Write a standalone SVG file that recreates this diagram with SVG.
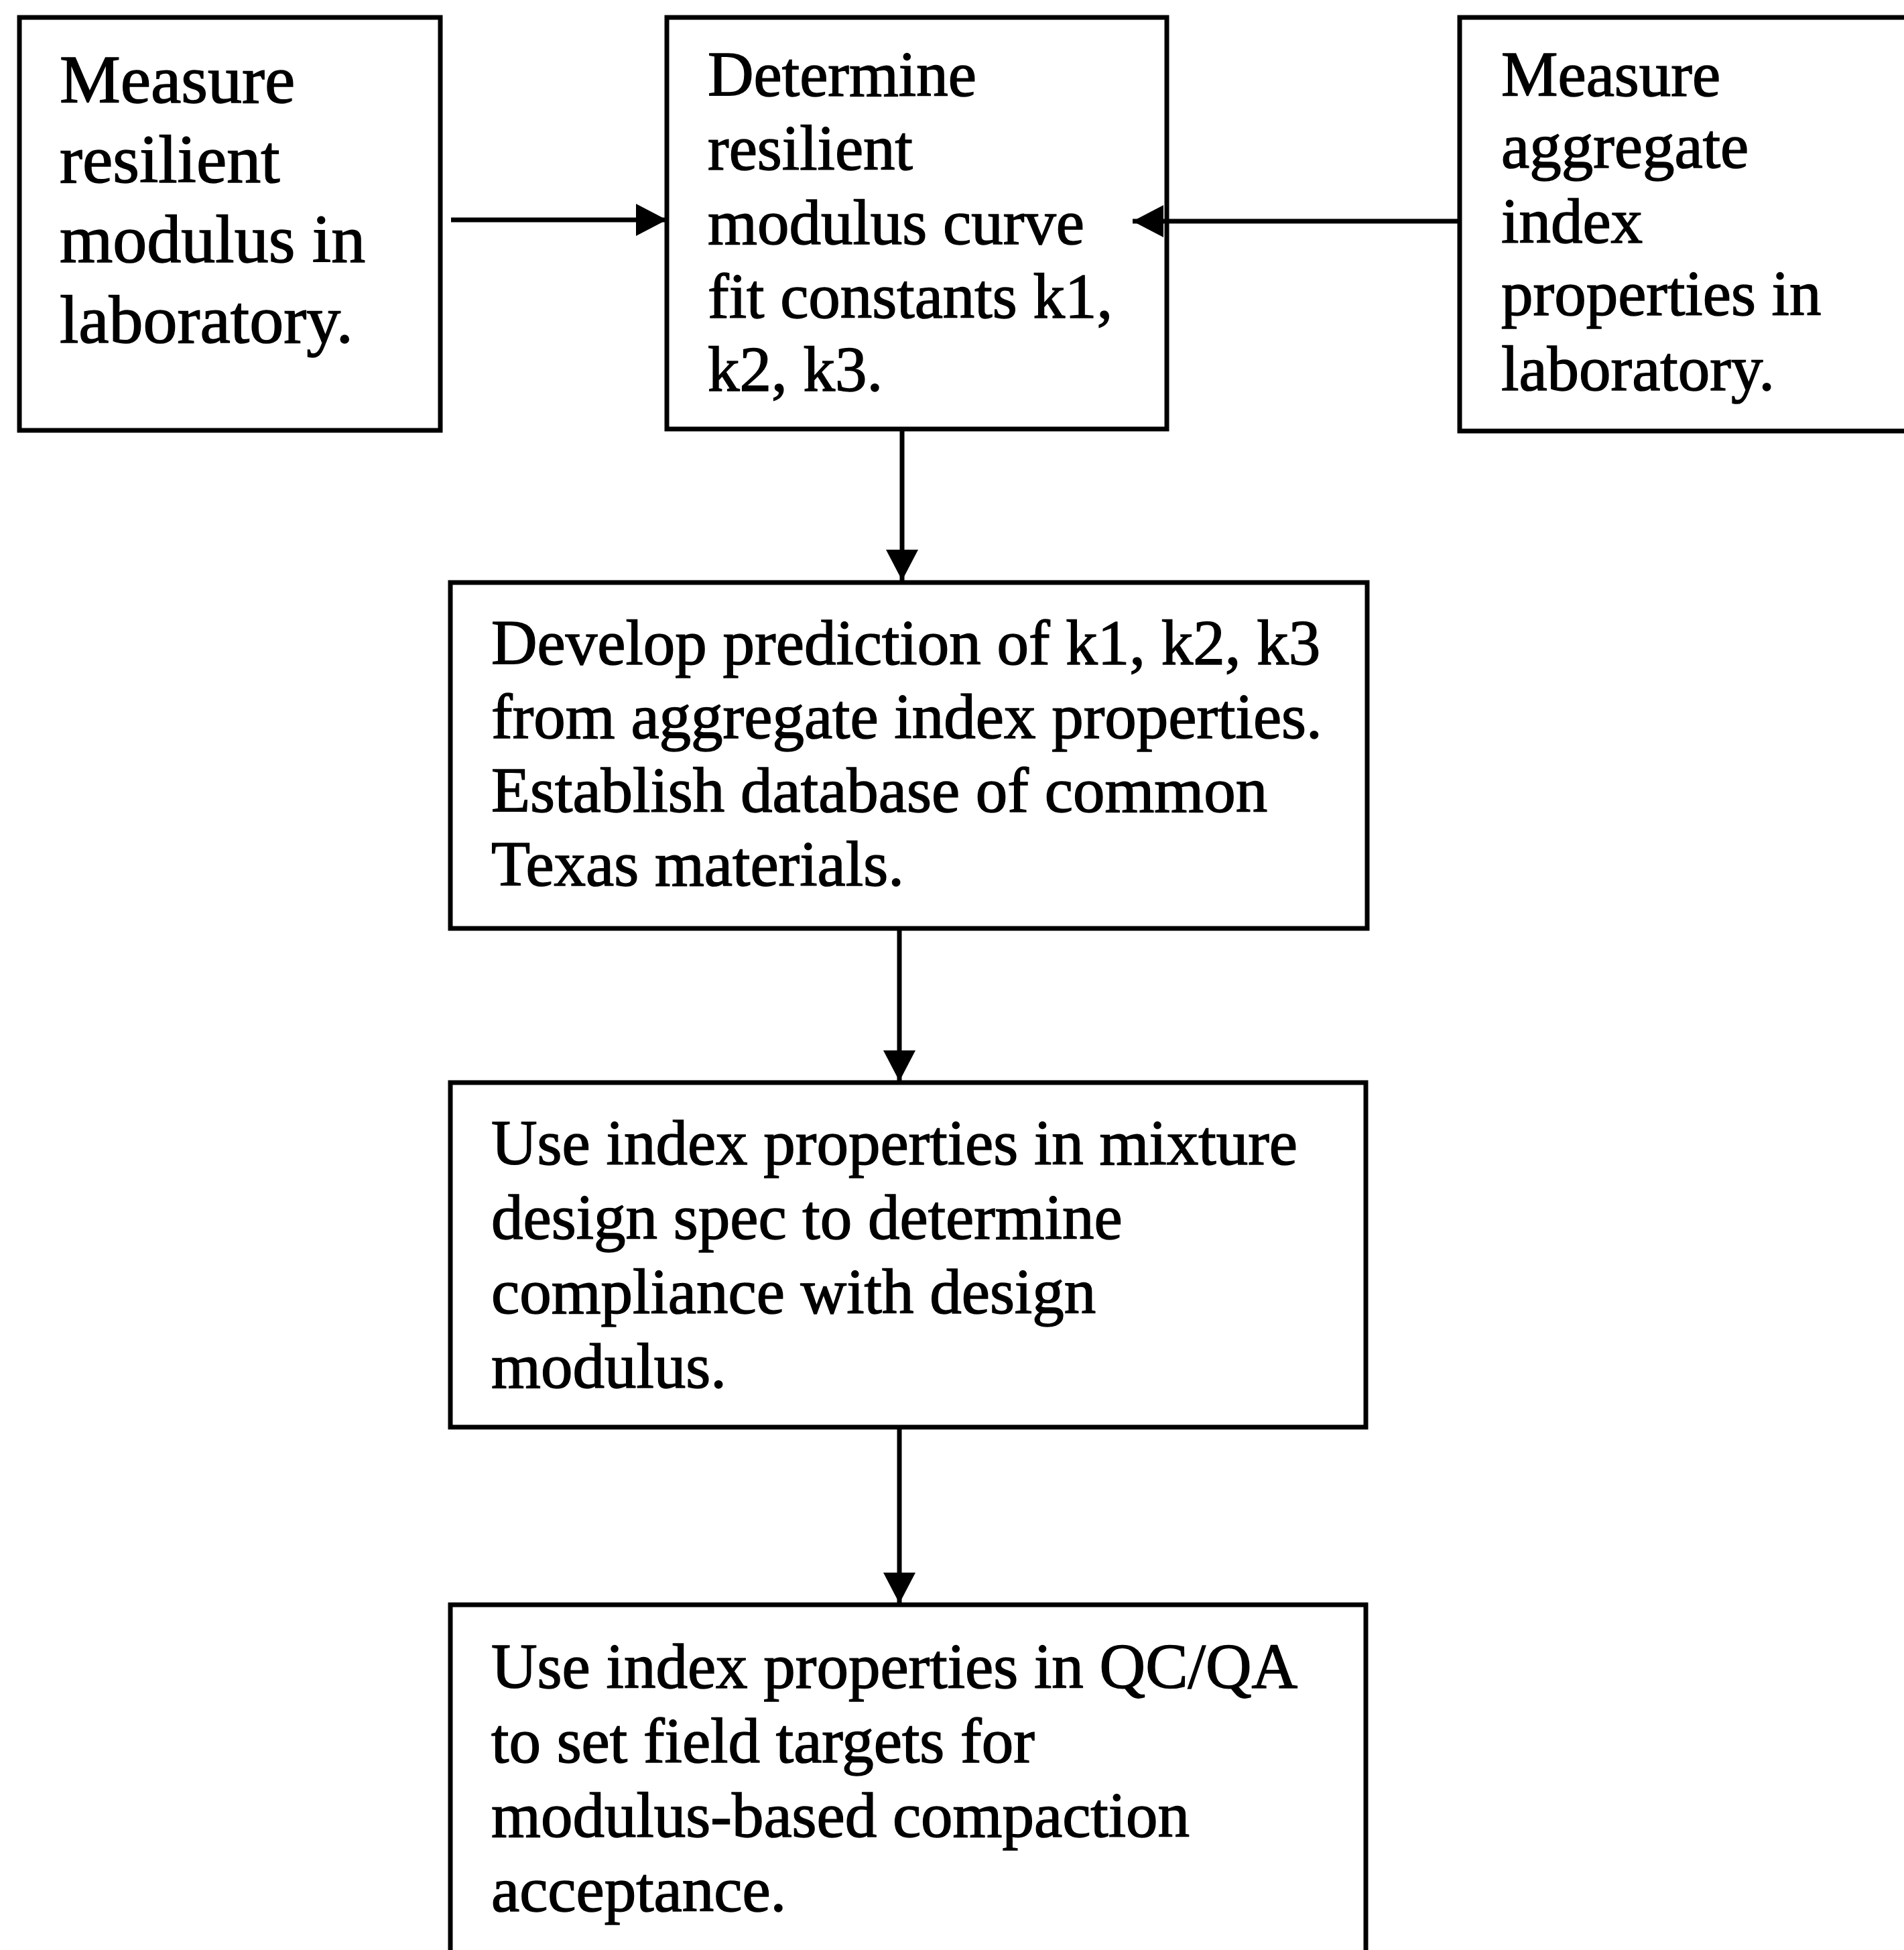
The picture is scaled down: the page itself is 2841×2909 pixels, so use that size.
<svg xmlns="http://www.w3.org/2000/svg" width="2841" height="2909" viewBox="0 0 2841 2909">
<style>
.box{fill:#fff;stroke:#000;stroke-width:7}
.t{font-family:"Liberation Serif","Times New Roman",serif;fill:#000;stroke:#000;stroke-width:1.5}
.big{font-size:102px}
.med{font-size:95px}
.conn{stroke:#000;stroke-width:7;fill:none}
</style>
<defs>
<marker id="ah" markerUnits="userSpaceOnUse" markerWidth="48" markerHeight="48" refX="46" refY="24" orient="auto">
<path d="M0,0 L46,24 L0,48 Z" fill="#000"/>
</marker>
</defs>
<rect width="2841" height="2909" fill="#fff"/>
<g id="node1">
<rect class="box" x="29" y="26" width="628" height="616"/>
<text class="t big"><tspan x="89" y="153">Measure</tspan><tspan x="89" y="272">resilient</tspan><tspan x="89" y="391">modulus in</tspan><tspan x="89" y="511">laboratory.</tspan></text>
</g>
<g id="node2">
<rect class="box" x="995" y="26" width="746" height="614"/>
<text class="t med"><tspan x="1056" y="143">Determine</tspan><tspan x="1056" y="253">resilient</tspan><tspan x="1056" y="364">modulus curve</tspan><tspan x="1056" y="474">fit constants k1,</tspan><tspan x="1056" y="583">k2, k3.</tspan></text>
</g>
<g id="node3">
<rect class="box" x="2178" y="26" width="700" height="617"/>
<text class="t med"><tspan x="2240" y="143">Measure</tspan><tspan x="2240" y="250">aggregate</tspan><tspan x="2240" y="362">index</tspan><tspan x="2240" y="470">properties in</tspan><tspan x="2240" y="582">laboratory.</tspan></text>
</g>
<g id="node4">
<rect class="box" x="672" y="869" width="1368" height="516"/>
<text class="t med"><tspan x="733" y="991">Develop prediction of k1, k2, k3</tspan><tspan x="733" y="1101">from aggregate index properties.</tspan><tspan x="733" y="1211">Establish database of common</tspan><tspan x="733" y="1321">Texas materials.</tspan></text>
</g>
<g id="node5">
<rect class="box" x="672" y="1615" width="1366" height="514"/>
<text class="t med"><tspan x="733" y="1737">Use index properties in mixture</tspan><tspan x="733" y="1848">design spec to determine</tspan><tspan x="733" y="1959">compliance with design</tspan><tspan x="733" y="2070">modulus.</tspan></text>
</g>
<g id="node6">
<rect class="box" x="672" y="2394" width="1366" height="540"/>
<text class="t med"><tspan x="733" y="2518">Use index properties in QC/QA</tspan><tspan x="733" y="2629">to set field targets for</tspan><tspan x="733" y="2740">modulus-based compaction</tspan><tspan x="733" y="2851">acceptance.</tspan></text>
</g>
<g id="connectors">
<line class="conn" x1="673" y1="328" x2="995" y2="328" marker-end="url(#ah)"/>
<line class="conn" x1="2178" y1="330" x2="1690" y2="330" marker-end="url(#ah)"/>
<line class="conn" x1="1346" y1="640" x2="1346" y2="866" marker-end="url(#ah)"/>
<line class="conn" x1="1342" y1="1385" x2="1342" y2="1613" marker-end="url(#ah)"/>
<line class="conn" x1="1342" y1="2129" x2="1342" y2="2392" marker-end="url(#ah)"/>
</g>
</svg>
